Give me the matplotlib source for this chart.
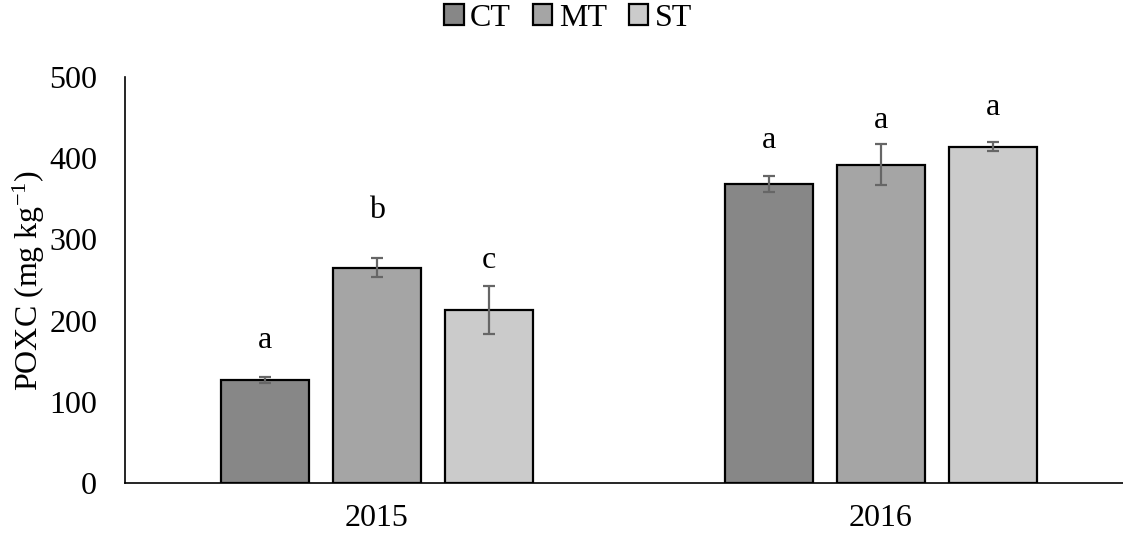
import numpy as np
import matplotlib
matplotlib.use("Agg")
import matplotlib.pyplot as plt

plt.rcParams['font.family'] = ['Liberation Serif', 'DejaVu Serif']
plt.rcParams['mathtext.default'] = 'regular'

# data
years = ["2015", "2016"]
treatments = ["CT", "MT", "ST"]
poxc = {
    "CT": [127, 368],
    "MT": [265, 392],
    "ST": [213, 414],
}
poxc_err = {
    "CT": [4, 9.5],
    "MT": [11.5, 25],
    "ST": [30, 5.5],
}
letters = {
    "CT": ["a", "a"],
    "MT": ["b", "a"],
    "ST": ["c", "a"],
}
# baseline height of the letters above each bar
letter_y = {
    "CT": [166, 412],
    "MT": [326, 437],
    "ST": [265, 453],
}
colors = {"CT": "#878787", "MT": "#a5a5a5", "ST": "#cbcbcb"}

fs = 23

fig = plt.figure(figsize=(11.23, 5.39), dpi=100)
ax = fig.add_axes([125 / 1123, 56 / 539, 1008 / 1123, 406 / 539])

x = np.arange(len(years))
offsets = [-0.222, 0.0, 0.222]
width = 0.175

for t, off in zip(treatments, offsets):
    ax.bar(x + off, poxc[t], width, color=colors[t], edgecolor="black",
           linewidth=1.6, label=t, zorder=2)
    ax.errorbar(x + off, poxc[t], yerr=poxc_err[t], fmt="none",
                ecolor="#666666", elinewidth=1.6, capsize=4.5, capthick=1.6, zorder=3)
    for xi, lab, ly in zip(x + off, letters[t], letter_y[t]):
        ax.text(xi, ly, lab, ha="center", va="baseline", fontsize=fs)

ax.set_xlim(-0.5, 1.5)
ax.set_ylim(0, 500)
ax.set_yticks([0, 100, 200, 300, 400, 500])
ax.set_xticks(x)
ax.set_xticklabels(years)
ax.tick_params(axis="both", length=0, labelsize=fs)
ax.tick_params(axis="y", pad=20)
ax.tick_params(axis="x", pad=15)
for s in ["top", "right"]:
    ax.spines[s].set_visible(False)
for s in ["left", "bottom"]:
    ax.spines[s].set_linewidth(1.2)

ax.set_ylabel("POXC (mg kg$^{-1}$)", fontsize=fs)
ax.yaxis.set_label_coords(-0.077, 0.5)

fig.legend(loc="center", bbox_to_anchor=(0.506, 0.966), ncol=3, frameon=False,
           fontsize=fs, handlelength=0.6, handleheight=0.6,
           handletextpad=0.2, columnspacing=0.7)

plt.savefig("out.png", dpi=100)
plt.close()
